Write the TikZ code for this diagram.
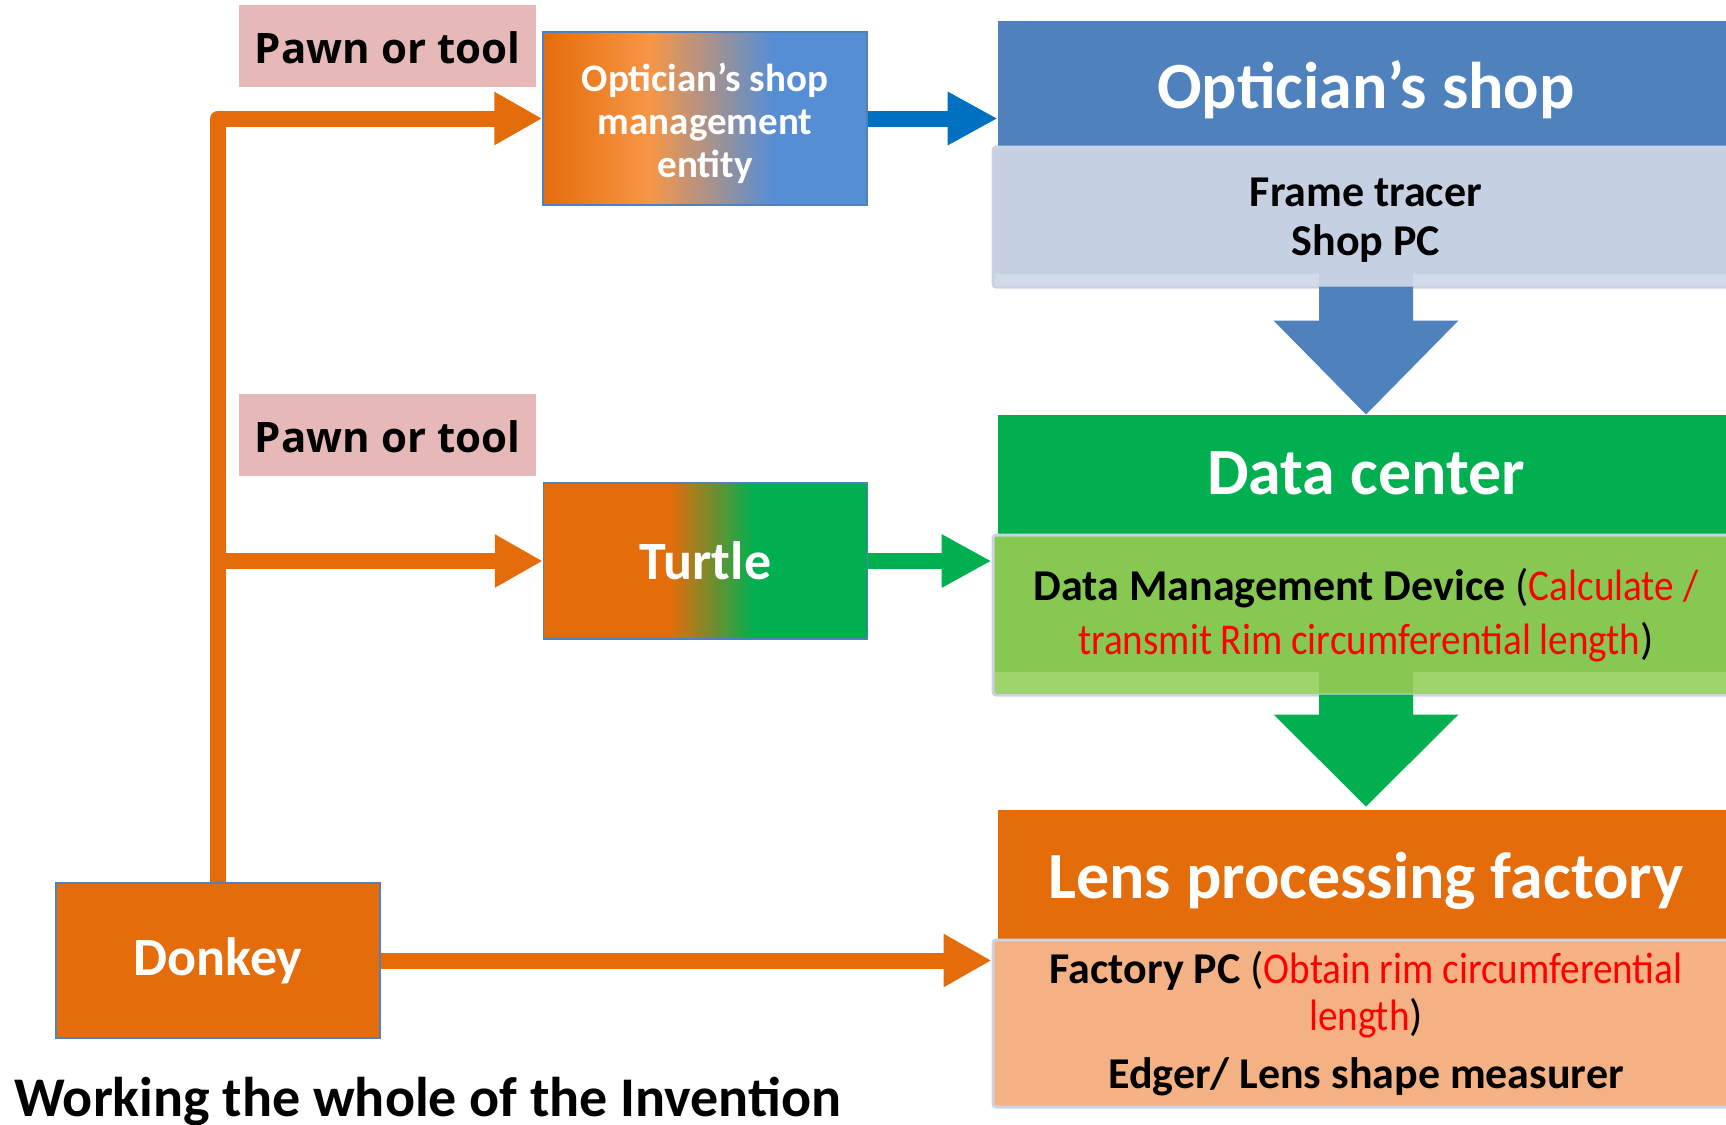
\documentclass[tikz,border=0pt]{standalone}
\usepackage{fontspec}
\usepackage{graphicx}
\setmainfont{Carlito}
\newfontfamily\pawnfont{Open Sans}
\usetikzlibrary{arrows.meta,calc}
\definecolor{orA}{HTML}{E46C0A}
\definecolor{orL}{HTML}{F79646}
\definecolor{blL}{HTML}{558ED5}
\definecolor{grA}{HTML}{00B050}
\definecolor{hblue}{HTML}{4F81BD}
\definecolor{arrBlue}{HTML}{0070C0}
\definecolor{subBlue}{HTML}{C5D0E3}
\definecolor{bandBlue}{HTML}{D3DBEA}
\definecolor{subGreen}{HTML}{86C851}
\definecolor{bandGreen}{HTML}{9ED46B}
\definecolor{peach}{HTML}{F4B183}
\definecolor{pawnPink}{HTML}{E6B8B7}
\definecolor{subBorder}{HTML}{CBD3E3}
\definecolor{txtRed}{HTML}{FF0000}
\newcommand{\redtxt}[1]{\textcolor{txtRed}{\scalebox{0.89}[1]{#1}}}
\pgfdeclarehorizontalshading{mgmtshade}{100bp}{color(0bp)=(orA); color(25bp)=(orA); color(41.5bp)=(orL); color(60.5bp)=(blL); color(100bp)=(blL)}
\pgfdeclarehorizontalshading{turtshade}{100bp}{color(0bp)=(orA); color(25bp)=(orA); color(44.5bp)=(orA); color(57.5bp)=(grA); color(100bp)=(grA)}
\tikzset{
  pawnbox/.style={fill=pawnPink, minimum width=148.5pt, minimum height=41pt, inner sep=0pt},
  pawntext/.style={font=\pawnfont\bfseries\fontsize{21pt}{25pt}\selectfont, inner sep=0pt},
  leftbox/.style={draw=hblue, line width=0.75pt, minimum width=162pt, inner sep=0pt,
    text=white, font=\bfseries\fontsize{27pt}{32pt}\selectfont, align=center},
  headbox/.style={minimum width=368pt, inner sep=0pt},
  headtext/.style={text=white, inner sep=0pt, font=\bfseries\fontsize{33pt}{39pt}\selectfont},
  subbox/.style={draw=subBorder, line width=1.5pt, rounded corners=1.5pt, minimum width=373pt,
    inner sep=0pt},
  oline/.style={draw=orA, line width=8pt, -{Triangle[length=24pt,width=25pt]}},
  barrow/.style={draw=arrBlue, line width=8pt, -{Triangle[length=25pt,width=25pt]}},
  garrow/.style={draw=grA, line width=8pt, -{Triangle[length=25pt,width=25pt]}},
}
\begin{document}
\begin{tikzpicture}[x=0.5pt,y=-0.5pt]
\useasboundingbox (0,0) rectangle (1726,1125);
\clip (0,0) rectangle (1726,1125);

% right column
\node[headbox, fill=hblue, minimum height=63pt] (opthead) at (1366,84) {};
\node[headtext] (optheadtext) at ($(opthead.center)+(0,5.5)$) {Optician’s shop};
\node[subbox, fill=subBlue, minimum height=70pt] (optsub) at (1366,217) {};
\fill[bandBlue] ($(optsub.south west)+(3,-15)$) rectangle ($(optsub.south)+(-47,-3)$);
\fill[bandBlue] ($(optsub.south)+(47,-15)$) rectangle ($(optsub.south east)+(-3,-3)$);
\node[align=center, font=\bfseries\fontsize{22pt}{24.5pt}\selectfont] (opttext) at ($(optsub.center)+(0,3)$) {Frame tracer\\Shop PC};

\node[headbox, fill=grA, minimum height=60pt] (dchead) at (1366,475) {};
\node[headtext] (dcheadtext) at ($(dchead.center)+(0,-2)$) {Data center};
\node[subbox, fill=subGreen, minimum height=80pt] (dmsub) at (1366,615) {};
\fill[bandGreen] ($(dmsub.south west)+(3,-25)$) rectangle ($(dmsub.south)+(-47,-4)$);
\fill[bandGreen] ($(dmsub.south)+(47,-25)$) rectangle ($(dmsub.south east)+(-3,-4)$);
\node[align=center, font=\fontsize{22pt}{27pt}\selectfont] (dmtext) at (dmsub.center)
  {\textbf{Data Management Device} (\redtxt{Calculate /}\\\redtxt{transmit Rim circumferential length})};

\node[headbox, fill=orA, minimum height=65pt] (lenshead) at (1366,875) {};
\node[headtext] (lensheadtext) at ($(lenshead.center)+(0,5.5)$) {Lens processing factory};
\node[subbox, fill=peach, minimum height=83.5pt] (lenssub) at (1366,1023.5) {};
\node[align=center, font=\fontsize{22pt}{23.5pt}\selectfont] (lenstext) at (lenssub.center)
  {\textbf{Factory PC} (\redtxt{Obtain rim circumferential}\\\redtxt{length})\\[5.5pt]\textbf{Edger/ Lens shape measurer}};

% down arrows
\fill[hblue] ($(optsub.south)+(-47,-2)$) -- ++(0,34) -- ++(-45.5,0) -- ($(optsub.south)+(0,126)$)
  -- ($(optsub.south)+(92.5,32)$) -- ++(-45.5,0) -- ++(0,-34) -- cycle;
\fill[grA] ($(dmsub.south)+(-47,-2)$) -- ++(0,20) -- ++(-45.5,0) -- ($(dmsub.south)+(0,110)$)
  -- ($(dmsub.south)+(92.5,18)$) -- ++(-45.5,0) -- ++(0,-20) -- cycle;

% left column
\node[pawnbox] (pawn1) at (387.5,46) {};
\node[pawntext] (pawn1text) at ($(pawn1.center)+(0,2)$) {Pawn or tool};
\node[pawnbox] (pawn2) at (387.5,435) {};
\node[pawntext] (pawn2text) at ($(pawn2.center)+(0,2)$) {Pawn or tool};
\node[leftbox, shading=mgmtshade, minimum height=86.5pt] (mgmt) at (705,118.5) {};
\node[align=center, text=white, inner sep=0pt, font=\bfseries\fontsize{19.5pt}{21.5pt}\selectfont]
  (mgmttext) at ($(mgmt.center)+(0,5)$) {Optician’s shop\\management\\entity};
\node[leftbox, shading=turtshade, minimum height=78pt] (turtle) at (705.5,561) {Turtle};
\node[leftbox, fill=orA, minimum height=77.5pt] (donkey) at (218,960.5) {Donkey};

% connectors
\draw[oline, line join=round] (donkey.north) |- (mgmt.west);
\draw[oline] (donkey.north |- turtle.west) -- (turtle.west);
\draw[oline] (donkey.east) -- (donkey.east -| lenssub.west);
\draw[barrow] (mgmt.east) -- (mgmt.east -| opthead.west);
\draw[garrow] (turtle.east) -- (turtle.east -| dmsub.west);

% title
\node[anchor=base west, inner sep=0pt, font=\bfseries\fontsize{28pt}{33pt}\selectfont] (title) at (14,1116)
  {Working the whole of the Invention};
\end{tikzpicture}
\end{document}
